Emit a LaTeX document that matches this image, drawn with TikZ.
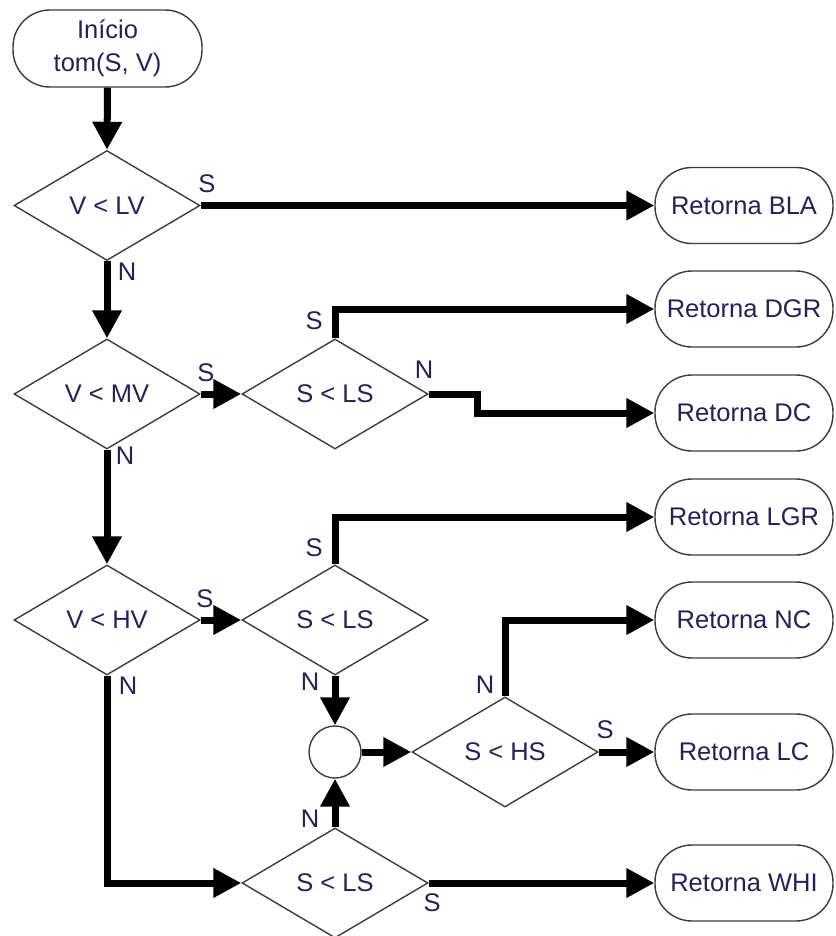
\documentclass[tikz,border=0pt]{standalone}
\usepackage{fontspec}
\setmainfont{Liberation Sans}
\usetikzlibrary{shapes.geometric,arrows.meta}
\definecolor{ink}{RGB}{38,32,88}
\definecolor{edge}{RGB}{60,60,60}
\begin{document}
\begin{tikzpicture}[x=1pt,y=-1pt,
  every node/.style={font=\fontsize{25.5}{33}\selectfont, text=ink},
  decision/.style={draw=edge, line width=1.4pt, diamond, minimum width=186pt,
    minimum height=110pt, inner sep=0pt},
  terminal/.style={draw=edge, line width=1.4pt, rectangle, rounded corners=37pt,
    minimum width=178pt, minimum height=76pt, inner sep=0pt},
  joint/.style={draw=edge, line width=1.4pt, circle, minimum size=52pt, inner sep=0pt},
  flow/.style={line width=7pt, -{Triangle[length=28pt,width=28pt]}},
  lbl/.style={inner sep=0pt}
]
\useasboundingbox (0,0) rectangle (835,936);

% start terminal
\node[terminal, minimum width=189pt, minimum height=77pt, align=center] (start) at (107.5,48.5)
  {Início\\tom(S, V)};

% decisions on the value axis
\node[decision] (d1) at (107,205.5) {V < LV};
\node[decision] (d2) at (107,394) {V < MV};
\node[decision] (d4) at (107,620) {V < HV};

% decisions on the saturation axis
\node[decision] (d3) at (335,394) {S < LS};
\node[decision] (d5) at (335,620) {S < LS};
\node[decision] (d7) at (335,883) {S < LS};
\node[decision] (d6) at (505,752) {S < HS};

% merge point
\node[joint] (circ) at (335,752) {};

% results
\node[terminal] (bla) at (744,205.5) {Retorna BLA};
\node[terminal] (dgr) at (744,309) {Retorna DGR};
\node[terminal] (dc)  at (744,413) {Retorna DC};
\node[terminal] (lgr) at (744,517) {Retorna LGR};
\node[terminal] (nc)  at (744,620) {Retorna NC};
\node[terminal] (lc)  at (744,752) {Retorna LC};
\node[terminal] (whi) at (744,883) {Retorna WHI};

% connectors
\draw[flow] (start.south) -- (d1.north);
\draw[flow] (d1.east) -- (bla.west);
\draw[flow] (d1.south) -- (d2.north);
\draw[flow] (d2.east) -- (d3.west);
\draw[flow] (d3.north) |- (dgr.west);
\draw[flow] (d3.east) -- ++(49,0) |- (dc.west);
\draw[flow] (d2.south) -- (d4.north);
\draw[flow] (d4.east) -- (d5.west);
\draw[flow] (d5.north) |- (lgr.west);
\draw[flow] (d5.south) -- (circ.north);
\draw[flow] (circ.east) -- (d6.west);
\draw[flow] (d6.north) |- (nc.west);
\draw[flow] (d6.east) -- (lc.west);
\draw[flow] (d4.south) |- (d7.west);
\draw[flow] (d7.north) -- (circ.south);
\draw[flow] (d7.east) -- (whi.west);

% branch labels
\node[lbl] (s1) at (207,184) {S};
\node[lbl] (n1) at (127,272) {N};
\node[lbl] (s2) at (206,373) {S};
\node[lbl] (n2) at (125,456) {N};
\node[lbl] (s3) at (314,321) {S};
\node[lbl] (n3) at (424,370) {N};
\node[lbl] (s4) at (205,599) {S};
\node[lbl] (n4) at (128,686) {N};
\node[lbl] (s5) at (314,548) {S};
\node[lbl] (n5) at (310,682) {N};
\node[lbl] (n6) at (485,685) {N};
\node[lbl] (s6) at (605,730) {S};
\node[lbl] (n7) at (310,819) {N};
\node[lbl] (s7) at (432,903) {S};
\end{tikzpicture}
\end{document}
